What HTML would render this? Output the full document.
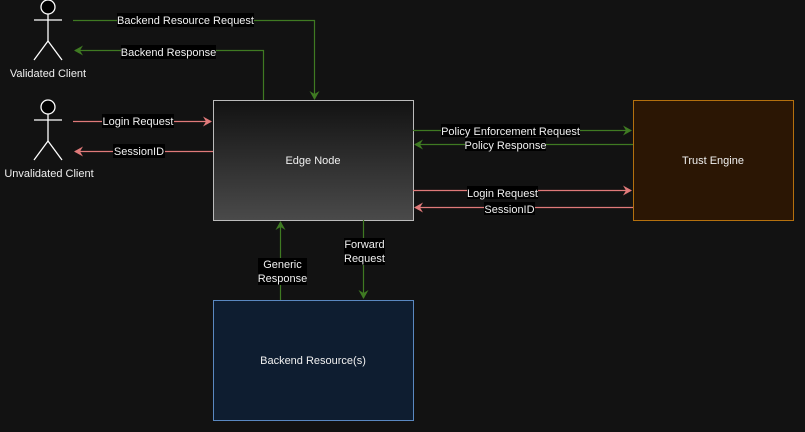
<!DOCTYPE html>
<html><head><style>
html,body{margin:0;padding:0;background:#121212;}
svg{display:block;}
text{font-family:"Liberation Sans",sans-serif;font-size:11px;fill:#f0f0f0;}
</style></head><body>
<svg width="805" height="432" viewBox="0 0 805 432" xmlns="http://www.w3.org/2000/svg">
<defs>
<linearGradient id="g" x1="0" y1="0" x2="0" y2="1"><stop offset="0" stop-color="#121212"/><stop offset="1" stop-color="#4a4a4a"/></linearGradient>
<marker id="ag" markerWidth="10" markerHeight="10" refX="8" refY="5" orient="auto" markerUnits="userSpaceOnUse"><path d="M0,0 L9,5 L0,10 L3,5 z" fill="#3f7a22"/></marker>
<marker id="ar" markerWidth="10" markerHeight="10" refX="8" refY="5" orient="auto" markerUnits="userSpaceOnUse"><path d="M0,0 L9,5 L0,10 L3,5 z" fill="#e07a7a"/></marker>
</defs>
<rect width="805" height="432" fill="#121212"/>
<!-- actors -->
<g stroke="#fff" stroke-width="1.3" fill="none">
<circle cx="48" cy="7" r="7" fill="#000"/><line x1="48" y1="14" x2="48" y2="41"/><line x1="34" y1="20" x2="62" y2="20"/><line x1="48" y1="41" x2="34" y2="60"/><line x1="48" y1="41" x2="62" y2="60"/>
<circle cx="48" cy="107" r="7" fill="#000"/><line x1="48" y1="114" x2="48" y2="141"/><line x1="34" y1="120" x2="62" y2="120"/><line x1="48" y1="141" x2="34" y2="160"/><line x1="48" y1="141" x2="62" y2="160"/>
</g>
<text x="48" y="77" text-anchor="middle" font-size="12" fill="#ddd">Validated Client</text>
<text x="49" y="177" text-anchor="middle" font-size="12" fill="#ddd">Unvalidated Client</text>
<!-- boxes -->
<rect x="213.5" y="100.5" width="200" height="120" fill="url(#g)" stroke="#bbb"/>
<text x="313" y="164" text-anchor="middle" font-size="12">Edge Node</text>
<rect x="633.5" y="100.5" width="160" height="120" fill="#2b1604" stroke="#b4700e"/>
<text x="713" y="164" text-anchor="middle" font-size="12">Trust Engine</text>
<rect x="213.5" y="300.5" width="200" height="120" fill="#0e1d30" stroke="#5a88c0"/>
<text x="313" y="364" text-anchor="middle" font-size="12">Backend Resource(s)</text>
<!-- lines -->
<g fill="none" stroke-width="1.2">
<path d="M73,20.5 H314.5 V99" stroke="#3f7a22" marker-end="url(#ag)"/>
<path d="M263.5,100 V50.5 H75" stroke="#3f7a22" marker-end="url(#ag)"/>
<path d="M73,121.5 H211" stroke="#e07a7a" marker-end="url(#ar)"/>
<path d="M213,151.5 H75" stroke="#e07a7a" marker-end="url(#ar)"/>
<path d="M413,130.5 H631" stroke="#3f7a22" marker-end="url(#ag)"/>
<path d="M633,144.5 H415" stroke="#3f7a22" marker-end="url(#ag)"/>
<path d="M413,190.5 H631" stroke="#e07a7a" marker-end="url(#ar)"/>
<path d="M633,207.5 H415" stroke="#e07a7a" marker-end="url(#ar)"/>
<path d="M363.5,220 V298" stroke="#3f7a22" marker-end="url(#ag)"/>
<path d="M280.5,300 V222" stroke="#3f7a22" marker-end="url(#ag)"/>
</g>
<!-- labels -->
<g>
<rect x="117" y="13" width="137" height="14" fill="#000"/><text x="185.5" y="24" text-anchor="middle">Backend Resource Request</text>
<rect x="121" y="45" width="95" height="14" fill="#000"/><text x="168.5" y="56" text-anchor="middle">Backend Response</text>
<rect x="102" y="114" width="72" height="14" fill="#000"/><text x="138" y="125" text-anchor="middle">Login Request</text>
<rect x="113" y="144" width="52" height="14" fill="#000"/><text x="139" y="155" text-anchor="middle">SessionID</text>
<rect x="441" y="124" width="139" height="13" fill="#000"/><text x="510.5" y="135" text-anchor="middle">Policy Enforcement Request</text>
<rect x="465" y="138" width="81" height="13" fill="#000"/><text x="505.5" y="149" text-anchor="middle">Policy Response</text>
<rect x="467" y="186" width="71" height="13" fill="#000"/><text x="502.5" y="197" text-anchor="middle">Login Request</text>
<rect x="484" y="202" width="51" height="13" fill="#000"/><text x="509.5" y="213" text-anchor="middle">SessionID</text>
<rect x="344" y="238" width="41" height="27" fill="#000"/><text x="364.5" y="248" text-anchor="middle">Forward</text><text x="364.5" y="262" text-anchor="middle">Request</text>
<rect x="258" y="258" width="49" height="27" fill="#000"/><text x="282.5" y="268" text-anchor="middle">Generic</text><text x="282.5" y="282" text-anchor="middle">Response</text>
</g>
</svg>
</body></html>
